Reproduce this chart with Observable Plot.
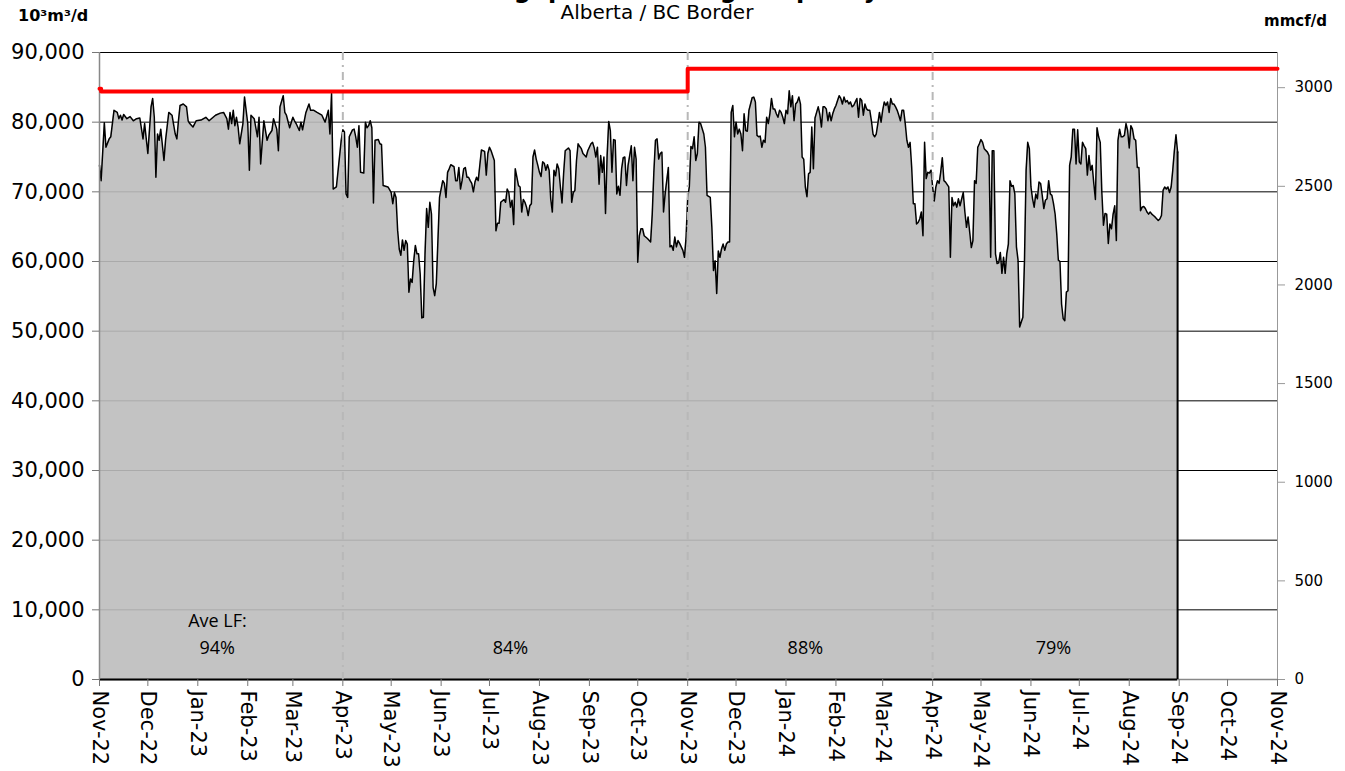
<!DOCTYPE html>
<html>
<head>
<meta charset="utf-8">
<script src="https://cdn.jsdelivr.net/npm/d3@7"></script>
<script src="https://cdn.jsdelivr.net/npm/@observablehq/plot@0.6"></script>
<style>
  body { margin: 0; background: #fff; }
  #wrap { position: relative; width: 1345px; height: 771px; overflow: hidden; background: #fff; }
  #chart { position: absolute; left: 0; top: 0; }
  .hdr { position: absolute; white-space: nowrap; color: #000; }
  #title { left: 0; width: 1314px; text-align: center; top: -22px; font: bold 24px/24px "DejaVu Sans"; }
  #subtitle { left: 0; width: 1314px; text-align: center; top: 2px; font: 20px/20px "DejaVu Sans"; }
  #unitL { left: 18px; top: 8px; font: bold 16px/16px "DejaVu Sans"; }
  #unitR { right: 18px; top: 14px; font: bold 15px/15px "DejaVu Sans"; }
</style>
</head>
<body>
<div id="wrap">
  <div id="chart"></div>
  <div class="hdr" id="title">Throughput and Design Capacity</div>
  <div class="hdr" id="subtitle">Alberta / BC Border</div>
  <div class="hdr" id="unitL">10³m³/d</div>
  <div class="hdr" id="unitR">mmcf/d</div>
</div>
<script>
// ---- data ----
// Daily throughput readings (days since 1 Nov 2022) in 10^3 m3/d
const flowDay = [
0,1,3,4,6,7,9,11,12,13,14,15,17,19,21,23,25,27,28,30,32,33,34,35,36,37,38,40,41,43,45,47,48,49,50,52,54,55,56,58,60,63,66,68,70,72,75,77,79,80,81,82,83,84,85,86,87,89,90,92,93,94,96,98,99,100,102,104,105,107,108,110,111,112,114,115,116,118,120,121,122,124,125,126,128,130,131,133,135,138,140,142,143,144,
145,147,150,151,152,153,154,155,157,158,159,160,161,162,164,165,166,167,168,169,170,171,173,174,175,176,179,180,181,182,183,184,185,186,187,188,189,190,191,192,193,194,195,196,197,198,199,200,201,202,203,204,205,206,207,208,209,211,213,214,215,216,217,218,220,221,222,223,224,225,226,227,228,229,230,231,232,233,234,235,237,239,240,241,242,243,245,246,247,248,249,251,252,253,254,255,256,257,258,259,260,261,262,263,264,265,266,267,268,269,270,271,272,273,274,275,276,277,278,279,280,281,282,283,284,285,286,287,288,289,291,292,293,294,295,296,297,298,299,300,302,303,304,305,306,307,308,309,310,311,312,313,314,315,316,317,318,319,320,321,322,323,324,325,326,327,328,330,331,332,333,334,335,336,337,338,340,342,343,344,345,346,347,348,349,350,351,353,354,355,356,357,358,359,360,362,363,364,365,366,367,368,369,370,371,372,
373,375,376,377,379,380,381,382,383,384,385,386,387,388,389,390,391,392,393,394,395,396,397,398,399,400,401,402,403,405,406,407,408,409,410,411,412,413,414,415,416,417,418,419,420,421,422,423,424,425,426,427,428,429,430,431,432,433,434,435,436,437,438,439,440,441,442,443,444,445,446,447,448,449,450,451,452,453,454,455,456,457,458,459,460,461,462,463,464,465,466,467,468,469,470,471,472,473,474,475,476,477,478,479,480,481,482,483,484,485,486,487,488,489,490,491,492,493,494,495,496,497,498,499,500,501,502,503,504,505,506,507,508,509,510,511,512,
513,514,515,516,517,518,519,520,521,522,523,524,525,527,528,529,530,531,532,533,534,536,537,538,539,540,541,542,543,544,545,546,547,548,549,551,552,553,554,555,556,557,558,559,560,561,562,563,564,565,566,567,568,569,570,571,572,573,574,575,576,577,578,579,580,581,582,583,584,585,586,587,588,589,590,591,592,593,594,595,596,597,598,599,600,601,602,603,604,605,606,607,608,609,610,611,612,613,614,615,616,617,618,619,620,621,622,623,624,625,626,627,628,629,630,631,632,633,634,635,636,637,638,639,640,641,642,643,644,645,646,647,648,649,650,651,652,653,654,655,657,658,659,660,661,662,663,664,665,666,667,668,669
];
const flowValue = [
73800,71600,79900,76400,77600,77900,81700,81400,80500,81000,80300,81100,80500,80800,80200,80500,80600,77600,79800,75500,82200,83400,80700,72100,78300,77400,79000,74500,77400,81400,81000,78300,77600,80200,82400,82600,82200,80200,79800,79300,80200,80300,80700,80200,80600,81000,81300,81400,80500,79000,81400,79800,81700,79500,80700,79300,76900,79800,83600,79800,73100,81000,80500,77900,80700,74000,80200,77400,78100,78800,80500,79000,75900,82200,83800,81400,81000,79200,80700,80200,79800,78800,80000,78900,81300,82600,81700,81700,81400,81000,80000,81700,78300,84100,
70400,70700,77400,78900,78600,69700,69200,77900,78900,79000,77900,76400,79500,72800,72700,80000,79200,79500,80200,79200,68400,77400,77500,76900,76800,70900,70700,70300,69900,68300,69900,69200,64500,61800,60900,63100,61600,63000,62500,55600,57500,57000,60100,62300,61100,61100,58200,51900,52000,61100,67600,64900,68500,66800,56300,55100,56800,69200,71600,71200,69200,72800,73300,73900,73600,71600,71600,73500,70400,71600,73300,73500,72100,72100,71600,71200,70000,71400,72100,71600,76000,75800,72400,75500,76400,75900,74500,64400,65500,65500,68500,68900,68500,70400,69900,67800,68800,65300,73300,72100,70900,70700,67100,68900,68500,67800,66600,68000,68300,75000,76000,74700,73800,72800,72200,74300,74100,73100,73900,73100,69000,67100,73100,72300,74000,73300,70700,68400,72600,75900,76300,75900,68500,69900,70200,74500,76900,76500,76200,75500,75000,75900,76400,76900,77100,76300,75000,76400,71100,75200,72800,75000,66900,75200,80100,78800,72800,77500,77400,69700,70800,69500,73300,74900,75000,70900,73800,76600,71600,76400,74700,59900,63700,64700,64700,63700,63300,62800,66800,72800,77400,77600,74700,75500,75700,67100,69700,73500,62100,62300,61600,63500,62100,63000,62600,61600,60600,63500,69200,70700,76500,76200,77900,74500,75500,80000,
79800,78300,76400,69500,69200,64900,58700,60100,55400,61500,60600,61800,62500,61600,62500,62800,62800,81400,82400,77900,80000,78300,79000,78300,75900,81200,78800,78700,81700,83500,83600,82900,78100,77900,78000,76400,77400,77100,80700,79800,81200,83400,81900,81900,81200,80700,81700,81400,80700,79800,81700,81200,84500,82200,83800,80200,82600,82900,83600,82600,75000,74700,70700,69300,72600,72800,79300,73300,80600,81400,82200,81100,79300,82200,82200,81900,80200,81400,80200,81200,81900,82400,83100,83800,83400,82600,83600,82900,83100,82600,82900,82200,82400,82900,83400,80700,83400,83100,81000,82600,81900,81700,81700,80200,78300,77900,78300,79800,81400,80000,81700,82900,82400,82900,81400,83400,82600,82600,82200,81700,81000,80200,81700,81700,79800,77400,76400,77100,73500,68300,68300,65400,65600,66100,67100,63700,77100,
71900,72800,72700,73100,70700,68700,70700,71600,71200,72800,74900,71600,71400,70700,60600,69200,68000,68500,67800,69000,68000,69900,67100,64900,66400,64200,62000,63000,71600,71200,76400,76900,77500,77100,76200,75700,75200,60600,75900,75900,61100,59700,59800,61300,58300,60600,58300,61100,62500,71600,70800,70900,69700,62100,60200,50600,51300,52000,60200,73100,77100,76200,70700,69000,67800,69700,69000,71400,71200,69500,67600,68800,69000,71600,69700,69500,68300,66800,64000,60200,60000,53900,51800,51500,55600,55800,73800,75000,79000,79000,74000,78900,74300,74000,77100,76600,76200,72400,75200,73100,73800,71200,68900,79200,77900,77100,69900,65200,66900,66800,62600,65400,64700,66800,68000,63000,77400,79000,77900,77900,78100,79800,78800,76300,79500,79000,77600,77400,73500,73500,67300,67800,67900,67600,67100,66800,67100,66800,66600,66400,65900,66100,66600,70200,70700,70400,70700,69900,70700,73100,75900,78200,75700
];
// Design capacity (10^3 m3/d), step changes
const capacityDates = ["2022-11-01", "2022-11-02", "2023-11-01", "2024-11-01"];
const capacityValues = [84800, 84400, 87650, 87650];
// Load-factor periods
const periodBreaks = ["2023-04-01", "2023-11-01", "2024-04-01"];
const lfLabels = ["94%", "84%", "88%", "79%"];
const lfDates = ["2023-01-13", "2023-07-14", "2024-01-13", "2024-06-15"];
const aveLabel = "Ave LF:";
const aveDate = "2022-12-26";
// Axes
const leftTicks = [0, 10000, 20000, 30000, 40000, 50000, 60000, 70000, 80000, 90000];
const rightTicks = [0, 500, 1000, 1500, 2000, 2500, 3000];
const m3PerMmcf = 28.3168; // 10^3 m3 per mmcf
const xStart = "2022-11-01", xEnd = "2024-11-01";

// ---- build ----
const start = new Date(xStart + "T00:00Z");
const end = new Date(xEnd + "T00:00Z");
const series = flowDay.map((d, i) => ({date: d3.utcDay.offset(start, d), flow: flowValue[i]}));
const first = series[0], last = series[series.length - 1];
const capacity = capacityDates.map((d, i) => ({date: new Date(d + "T00:00Z"), cap: capacityValues[i]}));
const breaks = periodBreaks.map(d => new Date(d + "T00:00Z"));
const lf = lfLabels.map((t, i) => ({date: new Date(lfDates[i] + "T00:00Z"), text: t}));
const monthTicks = d3.utcMonth.range(start, d3.utcDay.offset(end, 1));
const fmtMonth = d3.utcFormat("%b-%y");
const noteFont = "'Liberation Sans Narrow', 'Open Sans', sans-serif";

const chart = Plot.plot({
  width: 1345,
  height: 771,
  marginLeft: 99,
  marginRight: 68,
  marginTop: 52,
  marginBottom: 92,
  style: {fontFamily: "DejaVu Sans", fontSize: "21px", color: "#000", background: "transparent", overflow: "visible"},
  x: {type: "utc", domain: [start, end]},
  y: {domain: [0, 90000]},
  marks: [
    Plot.ruleY(leftTicks.filter(v => v > 0), {stroke: "#000", strokeWidth: 1}),
    Plot.ruleY([0], {stroke: "#888", strokeWidth: 1.5}),
    Plot.areaY(series, {x: "date", y: "flow", fill: "#bdbdbd", fillOpacity: 0.9}),
    Plot.lineY(series, {x: "date", y: "flow", stroke: "#000", strokeWidth: 1.5}),
    Plot.ruleX([last], {x: "date", y1: 0, y2: "flow", stroke: "#000", strokeWidth: 2}),
    Plot.ruleY([0], {x1: first.date, x2: last.date, stroke: "#000", strokeWidth: 2}),
    Plot.ruleX(breaks, {stroke: "#b8b8b8", strokeWidth: 2, strokeDasharray: "8,5,2,5"}),
    Plot.ruleX([start], {stroke: "#888", strokeWidth: 1.5}),
    Plot.ruleX([end], {stroke: "#999", strokeWidth: 1}),
    Plot.line(capacity, {x: "date", y: "cap", curve: "step-after", stroke: "#ff0000", strokeWidth: 4}),
    Plot.text([aveLabel], {x: new Date(aveDate + "T00:00Z"), y: 8300, text: d => d, textAnchor: "start", fontFamily: noteFont, fontSize: 18, fill: "#000"}),
    Plot.text(lf, {x: "date", y: 4450, text: "text", fontFamily: noteFont, fontSize: 18, fill: "#000"}),
    Plot.axisX({ticks: monthTicks, tickFormat: fmtMonth, tickRotate: 90, tickSize: 7, tickPadding: 4, stroke: "#777", fill: "#000", label: null}),
    Plot.axisY({anchor: "left", ticks: leftTicks, tickFormat: d3.format(","), tickSize: 7, tickPadding: 8, stroke: "#777", fill: "#000", label: null}),
    Plot.axisY({anchor: "right", ticks: rightTicks.map(v => v * m3PerMmcf), tickFormat: d => String(Math.round(d / m3PerMmcf)), tickSize: 7, tickPadding: 10, stroke: "#999", fill: "#000", fontSize: 15, label: null})
  ]
});
document.getElementById("chart").appendChild(chart);
</script>
</body>
</html>
